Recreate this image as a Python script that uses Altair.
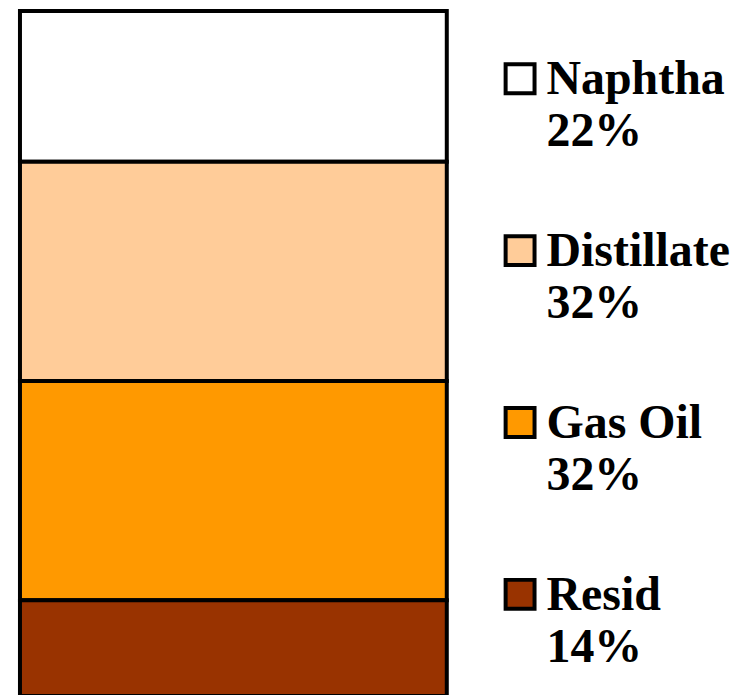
import altair as alt
import pandas as pd

products = ["Naphtha", "Distillate", "Gas Oil", "Resid"]
shares = [22, 32, 32, 14]
colors = ["#FFFFFF", "#FFCC99", "#FF9900", "#993300"]

n = len(products)
df = pd.DataFrame({
    "product": products,
    "share": shares,
    "stack": [n - 1 - i for i in range(n)],
})

color_scale = alt.Scale(domain=products, range=colors)

bar = alt.Chart(df).transform_calculate(g="'all'").mark_bar(
    stroke="black", strokeWidth=4
).encode(
    x=alt.X("g:N", axis=None, scale=alt.Scale(paddingInner=0, paddingOuter=0)),
    y=alt.Y("share:Q", stack="zero", axis=None,
            scale=alt.Scale(domain=[0, 100], nice=False)),
    color=alt.Color("product:N", scale=color_scale, legend=None),
    order=alt.Order("stack:Q"),
).properties(width=428, height=687)

leg_base = alt.Chart(df).transform_calculate(
    label="datum.product + '\\n' + datum.share + '%'"
)
y_leg = alt.Y("product:N", axis=None,
              scale=alt.Scale(type="point", domain=products, range=[68, 585], padding=0))

squares = leg_base.mark_square(
    size=841, stroke="black", strokeWidth=4, opacity=1
).encode(
    x=alt.value(71.5),
    y=y_leg,
    color=alt.Color("product:N", scale=color_scale, legend=None),
)

texts = leg_base.mark_text(
    align="left", baseline="alphabetic", dy=15.5,
    font="Liberation Serif", fontWeight="bold", fontSize=48,
    lineBreak="\n", lineHeight=52, color="black"
).encode(
    x=alt.value(98),
    y=y_leg,
    text="label:N",
)

legend = alt.layer(squares, texts).properties(width=280, height=687)

chart = alt.hconcat(bar, legend, spacing=0).resolve_scale(
    x="independent", y="independent"
).properties(
    padding={"left": 10, "top": 0, "right": 0, "bottom": 0},
).configure_view(stroke=None)

chart.save("out.html", embed_options={"renderer": "svg", "actions": False})
